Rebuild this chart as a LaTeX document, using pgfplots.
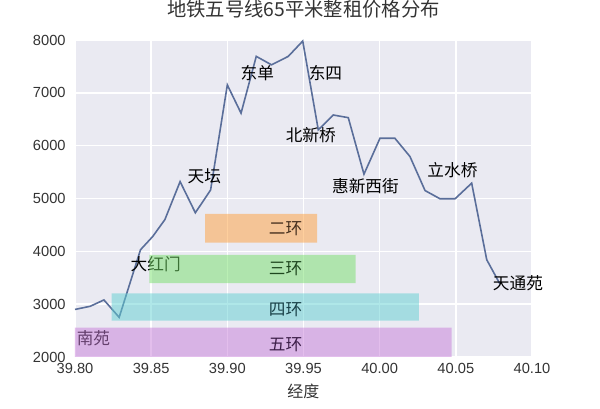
\documentclass[border=0pt]{standalone}
\usepackage{pgfplots}
\pgfplotsset{compat=1.18}
\usepackage{fontspec}
\setmainfont{Liberation Sans}
\newfontfamily\cjk{Noto Sans CJK SC}

\definecolor{bg}{HTML}{EAEAF2}
\definecolor{linec}{HTML}{5A6E9A}
\definecolor{ring2}{RGB}{254,160,60}
\definecolor{ring3}{RGB}{118,224,106}
\definecolor{ring4}{RGB}{96,208,210}
\definecolor{ring5}{RGB}{200,126,218}
\definecolor{txt}{HTML}{333333}

\begin{document}
\begin{tikzpicture}
\useasboundingbox (-56.25pt,-39pt) rectangle (393.75pt,267.75pt);
\begin{axis}[
    at={(0,0)}, anchor=south west,
    scale only axis,
    width=342.75pt, height=237.75pt,
    xmin=39.80, xmax=40.10, ymin=2000, ymax=8000,
    clip=false,
    axis background/.style={fill=bg},
    axis line style={draw=none},
    tick style={draw=none},
    grid=major,
    grid style={white, line width=1.1pt},
    xtick={39.80,39.85,39.90,39.95,40.00,40.05,40.10},
    ytick={2000,3000,4000,5000,6000,7000,8000},
    xticklabel style={/pgf/number format/.cd, fixed, fixed zerofill, precision=2},
    yticklabel style={/pgf/number format/1000 sep={}},
    /pgf/number format/assume math mode=true,
    tick label style={font=\fontsize{11}{13}\selectfont, text=txt},
    xticklabel shift=1.5pt,
    yticklabel shift=3.5pt,
    title={\cjk 地铁五号线65平米整租价格分布},
    title style={at={(0.5,1)}, anchor=center, yshift=17.25pt,
                 font=\fontsize{14.5}{17}\selectfont, text=txt},
    xlabel={\cjk 经度},
    xlabel style={at={(0.5,0)}, anchor=center, yshift=-26pt,
                  font=\fontsize{12}{14}\selectfont, text=txt},
]
% price along line 5
\addplot[linec, line width=1.2pt, no markers] coordinates {
    (39.800,2900) (39.810,2960) (39.819,3080) (39.829,2750)
    (39.843,4030) (39.851,4280) (39.859,4600) (39.869,5320)
    (39.879,4730) (39.889,5160) (39.900,7150) (39.909,6615)
    (39.919,7690) (39.929,7530) (39.940,7690) (39.9495,7980)
    (39.9597,6300) (39.9696,6580) (39.9794,6530) (39.9897,5460)
    (40.0002,6140) (40.010,6140) (40.0199,5794) (40.0298,5150)
    (40.0396,4995) (40.0495,4995) (40.0604,5290) (40.0703,3840)
    (40.079,3380)
};

% station names
\begin{scope}[font=\cjk\fontsize{12.5}{14}\selectfont, text=black]
\node at (axis cs:39.8849,5415) {天坛};
\node at (axis cs:39.8530,3761) {大红门};
\node at (axis cs:39.9197,7373) {东单};
\node at (axis cs:39.9644,7373) {东四};
\node at (axis cs:39.9548,6205) {北新桥};
\node at (axis cs:39.9907,5225) {惠新西街};
\node at (axis cs:40.0478,5542) {立水桥};
\node at (axis cs:40.0908,3396) {天通苑};
\node at (axis cs:39.8121,2360) {南苑};
\end{scope}

% ring road spans
\addplot[draw=none, fill=ring2, fill opacity=0.5, forget plot] coordinates {
    (39.8854,4165) (39.9590,4165) (39.9590,4708) (39.8854,4708) (39.8854,4165)};
\addplot[draw=none, fill=ring3, fill opacity=0.5, forget plot] coordinates {
    (39.8488,3396) (39.9843,3396) (39.9843,3932) (39.8488,3932) (39.8488,3396)};
\addplot[draw=none, fill=ring4, fill opacity=0.5, forget plot] coordinates {
    (39.8240,2688) (40.0258,2688) (40.0258,3206) (39.8240,3206) (39.8240,2688)};
\addplot[draw=none, fill=ring5, fill opacity=0.5, forget plot] coordinates {
    (39.8000,2000) (40.0473,2000) (40.0473,2555) (39.8000,2555) (39.8000,2000)};

% ring labels
\begin{scope}[font=\cjk\fontsize{12.5}{14}\selectfont]
\node[text={rgb,255:red,70;green,48;blue,30}] at (axis cs:39.9382,4424) {二环};
\node[text={rgb,255:red,30;green,70;blue,30}] at (axis cs:39.9382,3680) {三环};
\node[text={rgb,255:red,25;green,65;blue,72}] at (axis cs:39.9382,2890) {四环};
\node[text={rgb,255:red,60;green,30;blue,72}] at (axis cs:39.9382,2227) {五环};
\end{scope}
\end{axis}
\end{tikzpicture}
\end{document}
